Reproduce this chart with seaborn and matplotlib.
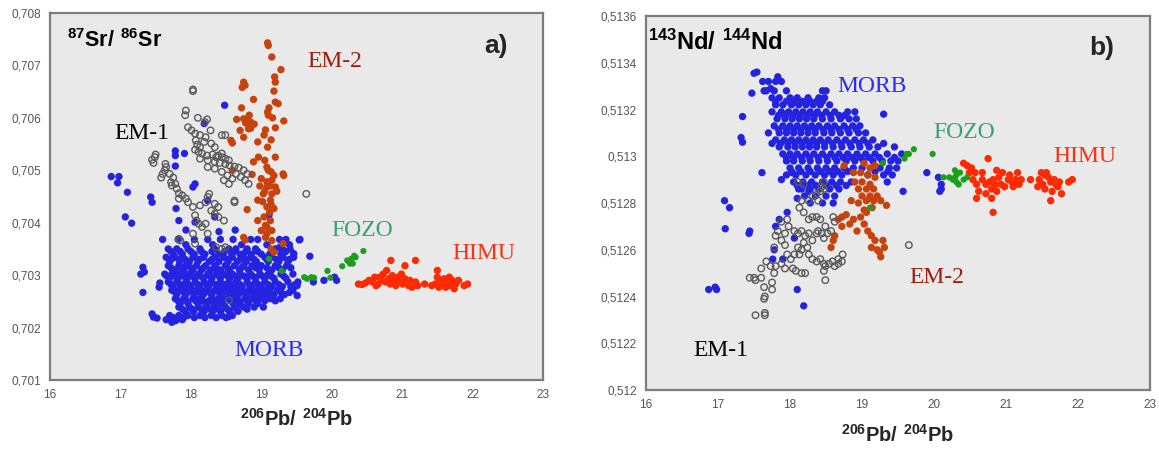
import numpy as np
import pandas as pd
import matplotlib
matplotlib.use("Agg")
import matplotlib.pyplot as plt
from matplotlib.ticker import FuncFormatter, MultipleLocator
import seaborn as sns

# ---------------- DATA ----------------
# Panel a: 87Sr/86Sr vs 206Pb/204Pb  -- dense MORB cloud, row by row
MORB_A_CORE_Y = [0.70368, 0.70358, 0.70350, 0.70345, 0.70340, 0.70334, 0.70330, 0.70326,
                 0.70318, 0.70314, 0.70310, 0.70302, 0.70298, 0.70294, 0.70287, 0.70282,
                 0.70278, 0.70271, 0.70267, 0.70263, 0.70255, 0.70251, 0.70246, 0.70239,
                 0.70235, 0.70231, 0.70223, 0.70219, 0.70215]
MORB_A_CORE_X = [
    [17.82, 18.05, 18.24, 18.42, 18.60, 18.85, 18.95, 19.26, 19.35, 19.55],
    [17.93, 18.31, 18.72, 19.08, 19.40],
    [17.68, 17.80, 17.96, 18.13, 18.34, 18.54, 18.64, 18.80, 18.92, 19.20, 19.30, 19.41],
    [17.72, 17.85, 18.00, 18.15, 18.30, 18.48, 18.62, 18.78, 18.95, 19.15, 19.35],
    [17.75, 17.88, 18.05, 18.20, 18.40, 18.58, 18.70, 18.86, 19.00, 19.12, 19.28, 19.46],
    [17.65, 17.78, 17.88, 18.03, 18.18, 18.34, 18.47, 18.59, 18.75, 18.85, 19.05, 19.15, 19.31, 19.46],
    [17.72, 17.92, 18.12, 18.30, 18.52, 18.70, 18.90, 19.08, 19.22, 19.40],
    [17.70, 17.84, 17.98, 18.10, 18.26, 18.40, 18.53, 18.66, 18.79, 18.93, 19.10, 19.25, 19.38],
    [17.68, 17.83, 17.93, 18.08, 18.21, 18.34, 18.49, 18.62, 18.75, 18.87, 19.00, 19.20, 19.36],
    [17.72, 17.87, 18.00, 18.18, 18.36, 18.52, 18.72, 18.92, 19.08, 19.25, 19.42],
    [17.78, 17.90, 18.03, 18.15, 18.28, 18.42, 18.55, 18.69, 18.82, 18.97, 19.15, 19.30],
    [17.63, 17.73, 17.85, 17.98, 18.11, 18.24, 18.36, 18.47, 18.59, 18.70, 18.85, 18.98, 19.10, 19.28, 19.45],
    [17.66, 17.78, 17.90, 18.02, 18.14, 18.27, 18.40, 18.52, 18.64, 18.76, 18.88, 19.02, 19.14, 19.32],
    [17.70, 17.82, 17.95, 18.06, 18.18, 18.30, 18.42, 18.55, 18.67, 18.80, 18.92, 19.05, 19.18, 19.35],
    [17.68, 17.80, 17.93, 18.06, 18.19, 18.29, 18.42, 18.54, 18.64, 18.80, 18.92, 19.05, 19.20, 19.38, 19.52],
    [17.72, 17.85, 17.97, 18.10, 18.23, 18.35, 18.47, 18.58, 18.70, 18.83, 18.96, 19.10, 19.25, 19.48],
    [17.75, 17.88, 18.00, 18.13, 18.25, 18.38, 18.50, 18.62, 18.73, 18.87, 19.00, 19.15, 19.30, 19.42],
    [17.73, 17.83, 17.96, 18.08, 18.21, 18.34, 18.44, 18.57, 18.70, 18.82, 18.95, 19.08, 19.23, 19.45],
    [17.78, 17.90, 18.02, 18.14, 18.27, 18.40, 18.52, 18.63, 18.76, 18.88, 19.01, 19.13, 19.28, 19.40],
    [17.80, 17.93, 18.05, 18.18, 18.30, 18.44, 18.57, 18.68, 18.80, 18.93, 19.06, 19.18, 19.33],
    [17.78, 17.90, 18.03, 18.13, 18.29, 18.39, 18.52, 18.64, 18.77, 18.87, 19.00, 19.13, 19.27],
    [17.82, 17.94, 18.07, 18.17, 18.26, 18.36, 18.47, 18.57, 18.68, 18.80, 18.92, 19.05, 19.20],
    [17.85, 17.96, 18.10, 18.21, 18.33, 18.44, 18.60, 18.70, 18.82, 18.95],
    [17.83, 17.98, 18.11, 18.24, 18.36, 18.49, 18.62, 18.75, 18.90, 19.03],
    [17.88, 18.02, 18.15, 18.28, 18.39, 18.52, 18.65, 18.80],
    [17.92, 18.04, 18.19, 18.31, 18.42, 18.55, 18.67],
    [17.70, 17.83, 17.96, 18.13, 18.29, 18.44, 18.59],
    [17.75, 17.90, 18.05, 18.20, 18.36, 18.50],
    [17.65, 17.73, 17.80, 17.88],
]
MORB_A_OUT = [
    (16.87, 0.70488), (16.98, 0.70488), (16.96, 0.70476), (17.10, 0.70458), (17.07, 0.70411),
    (17.16, 0.70399), (17.43, 0.70449), (17.45, 0.70439), (17.60, 0.70368), (17.78, 0.70537),
    (17.78, 0.70528), (17.91, 0.70532), (17.78, 0.70508), (18.06, 0.70474), (18.03, 0.70468),
    (17.79, 0.70427), (17.83, 0.70404), (18.19, 0.70589), (18.48, 0.70624), (18.24, 0.70442),
    (18.34, 0.70411), (18.06, 0.70401), (18.63, 0.70386), (18.40, 0.70383), (17.93, 0.70386),
    (19.11, 0.70414), (17.32, 0.70315), (17.34, 0.70306), (17.29, 0.70302), (17.32, 0.70267),
    (17.56, 0.70285), (17.55, 0.70277), (19.54, 0.70367), (19.69, 0.70336), (19.51, 0.70280),
    (19.51, 0.70261), (19.74, 0.70287), (19.89, 0.70290), (20.04, 0.70296), (20.07, 0.70290),
    (19.46, 0.70341), (19.26, 0.70353), (18.54, 0.70221), (17.45, 0.70226), (17.47, 0.70220),
    (17.52, 0.70218), (17.73, 0.70210), (17.78, 0.70213),
]
EM1_A = [
    (18.03, 0.70654), (18.03, 0.70651), (17.93, 0.70614), (17.92, 0.70605), (18.10, 0.70600),
    (18.23, 0.70597), (18.20, 0.70592), (17.96, 0.70582), (18.01, 0.70576), (18.28, 0.70576),
    (18.44, 0.70567), (18.49, 0.70567), (18.06, 0.70570), (18.13, 0.70567), (18.21, 0.70563),
    (18.07, 0.70557), (18.09, 0.70549), (18.13, 0.70544), (18.19, 0.70554), (18.29, 0.70551),
    (18.34, 0.70544), (18.06, 0.70539), (18.11, 0.70535), (18.16, 0.70532), (18.23, 0.70528),
    (18.31, 0.70530), (18.39, 0.70528), (18.44, 0.70525), (18.49, 0.70522), (18.54, 0.70519),
    (18.13, 0.70522), (18.24, 0.70519), (18.34, 0.70516), (18.41, 0.70514), (18.49, 0.70512),
    (18.55, 0.70509), (18.62, 0.70507), (18.68, 0.70505), (18.75, 0.70500), (18.80, 0.70493),
    (18.64, 0.70493), (18.59, 0.70484), (18.71, 0.70487), (18.77, 0.70481), (18.82, 0.70474),
    (18.24, 0.70506), (18.34, 0.70503), (18.44, 0.70497), (18.52, 0.70490), (18.47, 0.70481),
    (18.54, 0.70474), (17.50, 0.70530), (17.49, 0.70525), (17.45, 0.70520), (17.47, 0.70514),
    (17.64, 0.70512), (17.65, 0.70506), (17.63, 0.70500), (17.60, 0.70493), (17.58, 0.70486),
    (17.70, 0.70493), (17.75, 0.70486), (17.72, 0.70477), (17.73, 0.70471), (17.78, 0.70474),
    (17.80, 0.70465), (17.83, 0.70456), (17.88, 0.70452), (17.93, 0.70446), (17.83, 0.70446),
    (17.96, 0.70439), (18.03, 0.70430), (18.13, 0.70433), (18.24, 0.70449), (18.26, 0.70455),
    (18.21, 0.70439), (18.34, 0.70436), (18.39, 0.70430), (18.29, 0.70423), (18.34, 0.70417),
    (18.39, 0.70411), (18.06, 0.70414), (18.08, 0.70404), (18.11, 0.70398), (18.16, 0.70392),
    (18.21, 0.70398), (18.03, 0.70379), (18.24, 0.70379), (18.62, 0.70442), (18.62, 0.70439),
    (18.47, 0.70404), (17.83, 0.70369), (17.85, 0.70366), (18.36, 0.70353), (18.44, 0.70350),
    (18.49, 0.70353), (18.06, 0.70360), (18.54, 0.70252), (19.64, 0.70455), (18.36, 0.70525),
    (18.44, 0.70532),
]
EM2_A = [
    (19.09, 0.70743), (19.10, 0.70738), (19.15, 0.70716), (19.28, 0.70692), (19.19, 0.70678),
    (19.20, 0.70668), (18.75, 0.70668), (18.77, 0.70662), (18.73, 0.70658), (18.89, 0.70635),
    (19.18, 0.70651), (19.20, 0.70630), (19.24, 0.70627), (19.11, 0.70619), (19.09, 0.70611),
    (19.10, 0.70605), (19.32, 0.70594), (19.16, 0.70600), (19.20, 0.70581), (18.72, 0.70619),
    (18.65, 0.70597), (18.75, 0.70598), (18.80, 0.70598), (18.85, 0.70592), (18.90, 0.70588),
    (18.82, 0.70579), (18.70, 0.70576), (18.75, 0.70563), (18.57, 0.70557), (18.59, 0.70552),
    (19.04, 0.70567), (18.95, 0.70554), (19.06, 0.70577), (19.14, 0.70558), (19.09, 0.70544),
    (18.96, 0.70525), (19.20, 0.70525), (19.05, 0.70519), (18.89, 0.70516), (19.08, 0.70506),
    (19.14, 0.70497), (19.31, 0.70493), (19.32, 0.70490), (18.87, 0.70492), (19.00, 0.70484),
    (19.08, 0.70478), (19.15, 0.70481), (19.20, 0.70468), (19.08, 0.70468), (19.03, 0.70455),
    (19.15, 0.70455), (19.13, 0.70443), (18.95, 0.70443), (19.08, 0.70430), (19.18, 0.70427),
    (18.80, 0.70425), (19.04, 0.70411), (18.95, 0.70404), (19.13, 0.70404), (19.08, 0.70392),
    (19.15, 0.70385), (19.00, 0.70385), (19.06, 0.70372), (19.15, 0.70366), (19.31, 0.70360),
    (18.75, 0.70372), (18.77, 0.70367), (19.14, 0.70350), (19.18, 0.70344), (18.59, 0.70500),
    (19.08, 0.70379), (19.05, 0.70460), (19.12, 0.70470), (19.18, 0.70490), (19.10, 0.70500),
    (19.02, 0.70440), (19.12, 0.70420), (19.22, 0.70460), (18.98, 0.70470), (19.14, 0.70435),
    (19.06, 0.70395), (18.78, 0.70590), (18.85, 0.70580), (18.83, 0.70605),
]
FOZO_A = [
    (19.11, 0.70331), (19.29, 0.70308), (19.61, 0.70296), (19.65, 0.70293), (19.71, 0.70296),
    (19.75, 0.70295), (19.94, 0.70308), (19.98, 0.70295), (20.15, 0.70317), (20.22, 0.70328),
    (20.25, 0.70325), (20.28, 0.70331), (20.32, 0.70337), (20.34, 0.70334), (20.30, 0.70322),
    (20.45, 0.70346), (20.26, 0.70322),
]
HIMU_A = [
    (20.84, 0.70328), (21.19, 0.70328), (21.04, 0.70318), (21.50, 0.70309), (20.38, 0.70283),
    (20.43, 0.70282), (20.48, 0.70285), (20.53, 0.70290), (20.58, 0.70287), (20.61, 0.70296),
    (20.66, 0.70283), (20.71, 0.70290), (20.73, 0.70302), (20.76, 0.70287), (20.78, 0.70309),
    (20.81, 0.70293), (20.83, 0.70283), (20.86, 0.70299), (20.89, 0.70290), (20.91, 0.70280),
    (20.94, 0.70296), (20.96, 0.70287), (20.99, 0.70302), (21.01, 0.70283), (21.04, 0.70293),
    (21.09, 0.70280), (21.11, 0.70290), (21.14, 0.70277), (21.19, 0.70287), (21.22, 0.70280),
    (21.32, 0.70283), (21.42, 0.70280), (21.47, 0.70283), (21.52, 0.70277), (21.55, 0.70290),
    (21.57, 0.70280), (21.60, 0.70293), (21.62, 0.70277), (21.65, 0.70287), (21.67, 0.70296),
    (21.69, 0.70280), (21.71, 0.70290), (21.74, 0.70274), (21.76, 0.70283), (21.80, 0.70290),
    (21.88, 0.70280), (21.93, 0.70283), (21.50, 0.70296), (20.68, 0.70296), (20.63, 0.70280),
]

# Panel b: 143Nd/144Nd vs 206Pb/204Pb  -- dense MORB cloud, row by row
MORB_B_CORE_Y = [0.51332, 0.51328, 0.51325, 0.513235, 0.51322, 0.51319, 0.513175, 0.51316,
                 0.51313, 0.513115, 0.51310, 0.51307, 0.513055, 0.51304, 0.51301, 0.512995,
                 0.51298, 0.51295, 0.512935, 0.51292, 0.51289, 0.512875, 0.51286, 0.51283,
                 0.51280]
MORB_B_CORE_X = [
    [17.62, 17.70, 17.80, 17.88],
    [17.67, 17.78, 17.95, 18.45, 18.50],
    [17.75, 17.85, 18.00, 18.10, 18.25, 18.40, 18.48],
    [17.80, 17.95, 18.06, 18.17, 18.28, 18.37, 18.45],
    [17.80, 17.90, 18.02, 18.12, 18.22, 18.32, 18.42, 18.55],
    [17.75, 17.88, 17.98, 18.08, 18.18, 18.28, 18.38, 18.50, 18.62, 18.80, 18.90],
    [17.84, 17.94, 18.04, 18.14, 18.24, 18.34, 18.44, 18.56, 18.68, 18.76],
    [17.82, 17.93, 18.03, 18.13, 18.23, 18.33, 18.45, 18.57, 18.70, 18.82, 18.92],
    [17.78, 17.90, 18.00, 18.10, 18.20, 18.30, 18.40, 18.52, 18.62, 18.75, 18.87, 18.97],
    [17.84, 17.95, 18.05, 18.15, 18.25, 18.35, 18.46, 18.57, 18.68, 18.80, 18.92],
    [17.70, 17.85, 17.95, 18.05, 18.15, 18.25, 18.35, 18.47, 18.58, 18.70, 18.82, 18.95, 19.05],
    [17.80, 17.92, 18.02, 18.12, 18.22, 18.32, 18.42, 18.53, 18.65, 18.77, 18.90, 19.02, 19.15],
    [17.75, 17.87, 17.97, 18.07, 18.17, 18.27, 18.37, 18.48, 18.59, 18.71, 18.83, 18.96, 19.08, 19.30],
    [17.85, 17.97, 18.07, 18.17, 18.27, 18.37, 18.48, 18.60, 18.72, 18.85, 18.97, 19.10, 19.22, 19.45],
    [17.90, 18.00, 18.10, 18.22, 18.33, 18.45, 18.57, 18.68, 18.80, 18.93, 19.05, 19.18, 19.35, 19.55],
    [17.95, 18.05, 18.16, 18.27, 18.39, 18.51, 18.62, 18.74, 18.86, 18.98, 19.10, 19.24, 19.45],
    [17.95, 18.05, 18.17, 18.28, 18.40, 18.52, 18.65, 18.78, 18.90, 19.02, 19.15, 19.28, 19.40, 19.50],
    [18.00, 18.12, 18.25, 18.38, 18.50, 18.62, 18.75, 18.88, 19.00, 19.25, 19.38, 19.48],
    [18.02, 18.15, 18.28, 18.42, 18.55, 18.66, 18.80, 19.18, 19.36],
    [17.95, 18.08, 18.22, 18.35, 18.48, 18.60, 18.72, 19.08, 19.30, 19.42],
    [18.05, 18.18, 18.30, 18.45, 18.58, 18.70, 18.85, 19.35],
    [18.10, 18.24, 18.36, 18.50, 18.64, 18.78],
    [18.12, 18.28, 18.40, 18.55, 18.68],
    [18.20, 18.35, 18.50, 18.62],
    [18.28, 18.45, 18.60],
]
MORB_B_OUT = [
    (17.50, 0.513355), (17.54, 0.51336), (17.83, 0.51334), (17.47, 0.51327), (17.64, 0.51328),
    (17.73, 0.51329), (17.34, 0.51317), (17.32, 0.51308), (17.34, 0.51306), (17.61, 0.51293),
    (19.30, 0.51318), (19.57, 0.51285), (19.90, 0.51293), (20.06, 0.51291), (20.10, 0.51286),
    (17.09, 0.51281), (17.16, 0.51278), (17.10, 0.51269), (17.44, 0.51268), (17.43, 0.51267),
    (16.87, 0.51243), (16.96, 0.51244), (16.98, 0.51243), (18.10, 0.51243), (18.19, 0.51236),
    (17.76, 0.51256), (17.90, 0.51256), (17.78, 0.51260), (17.80, 0.51270), (18.06, 0.51265),
    (17.85, 0.51273), (17.96, 0.51276), (18.10, 0.51282), (18.26, 0.51285), (18.16, 0.51286),
    (18.03, 0.51293), (17.88, 0.51290), (20.10, 0.51288), (20.08, 0.51285),
]
EM1_B = [
    (17.52, 0.51232), (17.65, 0.51233), (17.65, 0.51232), (17.44, 0.51248), (17.50, 0.51248),
    (17.52, 0.51247), (17.60, 0.51248), (17.64, 0.51244), (17.65, 0.51240), (17.64, 0.51239),
    (17.75, 0.51243), (17.75, 0.51246), (17.78, 0.51250), (17.73, 0.51253), (17.80, 0.51253),
    (17.78, 0.51261), (17.80, 0.51266), (17.83, 0.51268), (17.88, 0.51272), (17.96, 0.51273),
    (17.98, 0.51270), (17.93, 0.51267), (17.88, 0.51264), (17.93, 0.51262), (17.96, 0.51258),
    (18.01, 0.51256), (17.88, 0.51254), (17.93, 0.51252), (18.04, 0.51252), (18.08, 0.51251),
    (18.16, 0.51250), (18.21, 0.51250), (18.06, 0.51258), (18.11, 0.51261), (18.16, 0.51260),
    (18.19, 0.51263), (18.24, 0.51261), (18.26, 0.51258), (18.13, 0.51258), (18.31, 0.51256),
    (18.37, 0.51255), (18.42, 0.51256), (18.47, 0.51254), (18.49, 0.51253), (18.54, 0.51254),
    (18.62, 0.51253), (18.67, 0.51254), (18.72, 0.51255), (18.73, 0.51258), (18.67, 0.51256),
    (18.59, 0.51255), (18.47, 0.51251), (18.49, 0.51247), (18.11, 0.51267), (18.16, 0.51268),
    (18.21, 0.51266), (18.26, 0.51267), (18.31, 0.51264), (18.37, 0.51267), (18.39, 0.51268),
    (18.44, 0.51267), (18.47, 0.51265), (18.52, 0.51267), (18.57, 0.51268), (18.49, 0.51270),
    (18.42, 0.51273), (18.37, 0.51274), (18.31, 0.51274), (18.26, 0.51273), (18.19, 0.51276),
    (18.13, 0.51278), (18.16, 0.51281), (18.26, 0.51281), (18.31, 0.51283), (18.37, 0.51284),
    (18.42, 0.51285), (18.47, 0.51286), (18.47, 0.51289), (18.44, 0.51287), (18.39, 0.51281),
    (18.19, 0.51288), (18.11, 0.51289), (18.60, 0.51274), (18.62, 0.51272), (19.65, 0.51262),
    (18.06, 0.51268), (17.60, 0.51252), (17.67, 0.51255),
]
EM2_B = [
    (18.75, 0.51296), (19.03, 0.51297), (18.88, 0.51293), (18.98, 0.51293), (19.08, 0.51292),
    (19.18, 0.51291), (18.90, 0.51289), (19.00, 0.51289), (19.11, 0.51288), (18.95, 0.51286),
    (19.06, 0.51286), (19.16, 0.51286), (19.00, 0.51283), (19.11, 0.51283), (19.21, 0.51283),
    (19.06, 0.51281), (19.16, 0.51281), (19.26, 0.51281), (19.34, 0.51279), (19.14, 0.51278),
    (18.78, 0.51275), (18.88, 0.51273), (18.98, 0.51274), (19.06, 0.51276), (18.67, 0.51273),
    (18.72, 0.51270), (18.83, 0.51271), (18.93, 0.51268), (19.03, 0.51271), (19.08, 0.51268),
    (18.62, 0.51266), (18.60, 0.51264), (18.57, 0.51261), (19.13, 0.51266), (19.18, 0.51264),
    (19.13, 0.51261), (19.29, 0.51264), (19.31, 0.51261), (19.24, 0.51259), (19.26, 0.51257),
    (19.21, 0.51260), (18.95, 0.51280), (18.85, 0.51281), (19.11, 0.51295), (19.18, 0.51296),
    (19.03, 0.51277), (18.72, 0.51274),
]
FOZO_B = [
    (19.29, 0.51297), (19.62, 0.51301), (19.65, 0.51301), (19.59, 0.51299), (19.72, 0.51303),
    (19.98, 0.51301), (19.11, 0.51278), (20.21, 0.51291), (20.26, 0.51290), (20.29, 0.51291),
    (20.31, 0.51289), (20.34, 0.51288), (20.29, 0.51294), (20.36, 0.51293), (20.31, 0.51292),
    (20.46, 0.51291), (20.41, 0.51290), (20.13, 0.51291), (20.34, 0.51288),
]
HIMU_B = [
    (20.41, 0.51297), (20.46, 0.51296), (20.52, 0.51295), (20.57, 0.51293), (20.75, 0.51299),
    (20.54, 0.51290), (20.59, 0.51288), (20.62, 0.51285), (20.59, 0.51282), (20.67, 0.51290),
    (20.72, 0.51288), (20.77, 0.51289), (20.80, 0.51286), (20.82, 0.51290), (20.85, 0.51288),
    (20.87, 0.51285), (20.90, 0.51291), (20.93, 0.51288), (20.95, 0.51293), (20.98, 0.51287),
    (21.03, 0.51290), (21.05, 0.51292), (21.08, 0.51289), (21.10, 0.51287), (21.13, 0.51290),
    (21.16, 0.51293), (21.18, 0.51288), (21.21, 0.51290), (20.72, 0.51284), (20.80, 0.51282),
    (20.82, 0.51276), (20.67, 0.51293), (20.49, 0.51293), (20.87, 0.51294), (21.34, 0.51290),
    (21.44, 0.51287), (21.49, 0.51293), (21.54, 0.51292), (21.56, 0.51293), (21.59, 0.51291),
    (21.62, 0.51289), (21.67, 0.51290), (21.69, 0.51288), (21.72, 0.51287), (21.74, 0.51289),
    (21.64, 0.51285), (21.62, 0.51281), (21.77, 0.51284), (21.87, 0.51289), (21.92, 0.51290),
    (21.51, 0.51288), (21.54, 0.51286), (21.46, 0.51290),
]

GROUPS = ["MORB", "EM-1", "EM-2", "FOZO", "HIMU"]
PANEL_A_LABELS = [("EM-2", 19.66, 0.70707), ("EM-1", 16.91, 0.70570), ("FOZO", 19.99, 0.70385),
                  ("HIMU", 21.71, 0.70341), ("MORB", 18.62, 0.70156)]
PANEL_B_LABELS = [("MORB", 18.66, 0.51330), ("FOZO", 19.99, 0.51310), ("HIMU", 21.66, 0.51300),
                  ("EM-2", 19.66, 0.51248), ("EM-1", 16.66, 0.51217)]

# ---------------- STYLE ----------------
POINT_COLORS = {"MORB": "#2424e0", "EM-2": "#c8420e", "FOZO": "#1aa01a", "HIMU": "#ff2a00",
                "EM-1": "#5a5a5a"}
LABEL_COLORS = {"MORB": "#2a2aff", "EM-1": "#000000", "EM-2": "#a01c0c", "FOZO": "#3aa070",
                "HIMU": "#ff3010"}

sns.set_style("white")
plt.rcParams["font.family"] = ["Liberation Sans", "DejaVu Sans"]
plt.rcParams["mathtext.fontset"] = "custom"
plt.rcParams["mathtext.rm"] = "Liberation Sans"
plt.rcParams["mathtext.bf"] = "Liberation Sans:bold"


def flatten_core(ys, xs):
    px, py = [], []
    for y, row in zip(ys, xs):
        px.extend(row)
        py.extend([y] * len(row))
    return px, py


def build_df(core_y, core_x, morb_out, em1, em2, fozo, himu):
    cx, cy = flatten_core(core_y, core_x)
    rows = [("MORB", x, y) for x, y in zip(cx, cy)]
    rows += [("MORB", x, y) for x, y in morb_out]
    rows += [("EM-1", x, y) for x, y in em1]
    rows += [("EM-2", x, y) for x, y in em2]
    rows += [("FOZO", x, y) for x, y in fozo]
    rows += [("HIMU", x, y) for x, y in himu]
    return pd.DataFrame(rows, columns=["group", "pb", "ratio"])


df_a = build_df(MORB_A_CORE_Y, MORB_A_CORE_X, MORB_A_OUT, EM1_A, EM2_A, FOZO_A, HIMU_A)
df_b = build_df(MORB_B_CORE_Y, MORB_B_CORE_X, MORB_B_OUT, EM1_B, EM2_B, FOZO_B, HIMU_B)

fig = plt.figure(figsize=(11.59, 4.5), dpi=100)
ax_a = fig.add_axes([0.0431, 0.1556, 0.4254, 0.8156])
ax_b = fig.add_axes([0.5574, 0.1333, 0.4349, 0.8311])


def comma_fmt(v, pos):
    s = f"{v:.4f}".rstrip("0").rstrip(".")
    return s.replace(".", ",")


def draw(ax, df, ylim, ystep, ylab, panel, labels, xpad, ylab_x, ylab_y, ylab_fs, panel_y):
    ax.set_facecolor("#e9e9e9")
    for g in ["MORB", "EM-2", "HIMU", "FOZO"]:
        sub = df[df.group == g]
        sns.scatterplot(data=sub, x="pb", y="ratio", ax=ax, color=POINT_COLORS[g],
                        s=28 if g != "FOZO" else 20, edgecolor="none", linewidth=0,
                        legend=False, zorder=3)
    sub = df[df.group == "EM-1"]
    sns.scatterplot(data=sub, x="pb", y="ratio", ax=ax, facecolors="none",
                    edgecolor=POINT_COLORS["EM-1"], s=22, linewidth=1.0,
                    legend=False, zorder=4)
    ax.set_xlim(16, 23)
    ax.set_ylim(*ylim)
    ax.yaxis.set_major_locator(MultipleLocator(ystep))
    ax.xaxis.set_major_locator(MultipleLocator(1))
    ax.xaxis.set_minor_locator(MultipleLocator(0.5))
    ax.yaxis.set_major_formatter(FuncFormatter(comma_fmt))
    ax.tick_params(axis="both", which="major", labelsize=8.5, labelcolor="#555555",
                   color="#9a9a9a", length=3, width=0.8, direction="out")
    ax.tick_params(axis="x", which="minor", length=2, color="#9a9a9a", width=0.8)
    for sp in ax.spines.values():
        sp.set_color("#7d7d7d")
        sp.set_linewidth(1.6)
    ax.set_xlabel(r"$\mathbf{^{206}Pb/\ ^{204}Pb}$", fontsize=14.5, labelpad=xpad)
    ax.set_ylabel("")
    ax.text(ylab_x, ylab_y, ylab, transform=ax.transAxes, fontsize=ylab_fs,
            ha="left", va="center", color="black")
    ax.text(0.88, panel_y, panel, transform=ax.transAxes, fontsize=19, fontweight="bold",
            ha="left", va="center")
    for name, x, y in labels:
        ax.text(x, y, name, color=LABEL_COLORS[name], fontsize=17,
                family=["Liberation Serif", "DejaVu Serif"], ha="left", va="center", zorder=5)


draw(ax_a, df_a, (0.701, 0.708), 0.001, r"$\mathbf{^{87}Sr/\ ^{86}Sr}$", "a)",
     PANEL_A_LABELS, 5, 0.035, 0.925, 15.5, 0.91)
draw(ax_b, df_b, (0.512, 0.5136), 0.0002, r"$\mathbf{^{143}Nd/\ ^{144}Nd}$", "b)",
     PANEL_B_LABELS, 9, 0.003, 0.93, 17, 0.915)

fig.savefig("out.png", dpi=100, facecolor="white")
